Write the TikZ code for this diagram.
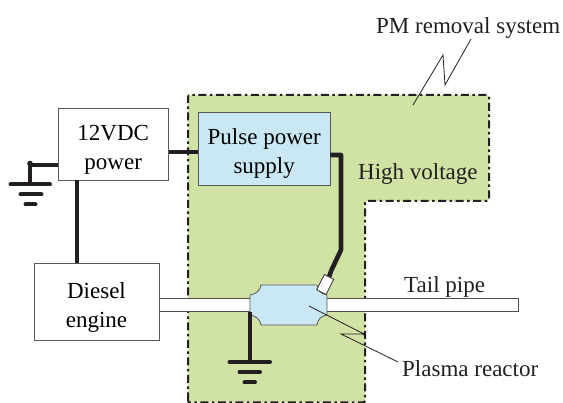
\documentclass[tikz,border=0pt]{standalone}
\usepackage{fontspec}
\setmainfont{Liberation Serif}
\definecolor{zone}{RGB}{208,226,164}
\definecolor{cyanbox}{RGB}{201,232,244}
\definecolor{ink}{RGB}{35,31,32}
\tikzset{
  wire/.style={draw=ink,line width=4.1pt},
  gbar/.style={draw=ink,line width=4pt,line cap=round},
  thin line/.style={draw=ink,line width=0.8pt},
  blockbox/.style={draw=ink!75,line width=0.8pt,fill=#1,minimum width=0pt,inner sep=0pt,align=center,font=\fontsize{23}{28.5}\selectfont},
  label/.style={text=ink,inner sep=0pt,font=\fontsize{23}{28}\selectfont}
}
\begin{document}
\begin{tikzpicture}[x=1pt,y=-1pt]
\useasboundingbox (0,0) rectangle (563,403);
% zone
\draw[draw=ink,fill=zone,line width=2pt,dash pattern=on 8pt off 3.5pt on 2.5pt off 3.5pt,rounded corners=2pt]
  (188,402.5) -- (188,95) -- (489,95) -- (489,201) -- (365,201) -- (365,402.5) -- cycle;
\coordinate (gl) at (30,165);
\coordinate (gl2) at (30,185);
\coordinate (gr) at (250,312);
\coordinate (gr2) at (250,362);
% pipe
\fill[white] (159,298) rectangle (250,311);
\draw[thin line,draw=ink!80] (159,298) -- (250,298) (159,311) -- (250,311);
\fill[white] (327,298) rectangle (518,311);
\draw[thin line,draw=ink!80] (327,298) -- (518,298) -- (518,311) -- (327,311);
% boxes
\node[blockbox=white,minimum width=110.5pt,minimum height=71.5pt] (power) at (113.2,144.2) {\rule{0pt}{27pt}12VDC\\power};
\node[blockbox=cyanbox,minimum width=131.5pt,minimum height=73pt] (pulse) at (264.2,148.5) {\rule{0pt}{26pt}Pulse power\\supply};
\node[blockbox=white,minimum width=125pt,minimum height=77pt] (diesel) at (96.5,301.5) {\rule{0pt}{28pt}Diesel\\engine};
% reactor
\draw[draw=ink!75,line width=0.8pt,fill=cyanbox] (261,285) -- (317,285)
  .. controls (318,291) and (321,294) .. (327,295) -- (327,315)
  .. controls (321,316) and (318,319) .. (317,325) -- (261,325)
  .. controls (260,319) and (256,316) .. (250,315) -- (250,295)
  .. controls (256,294) and (260,291) .. (261,285) -- cycle;
\coordinate (reactor) at (288.5,305);
% wires
\draw[wire] (power.east |- 0,152) -- (pulse.west |- 0,152);
\draw[wire] (power.south -| 77,0) -- (diesel.north -| 77,0);
\draw[wire] (power.west |- gl) -- (gl) -- (gl2);
\fill[ink] (gl) ++(0,-1.5) circle (2.8pt);
\draw[gbar] (10.5,184.5) -- (50,184.5);
\draw[gbar] (20.5,194.5) -- (41.5,194.5);
\draw[gbar] (25.5,204.5) -- (35.5,204.5);
\draw[wire] (gr) -- (gr2);
\draw[gbar] (229.5,362) -- (270,362);
\draw[gbar] (239.5,372) -- (260,372);
\draw[gbar] (244.5,382.5) -- (255,382.5);
% HV wire
\draw[wire,line width=4.6pt,line join=round] (pulse.east |- 0,155) -- (341,155) -- (341,250) -- (331,271);
\node[draw=ink!85,line width=0.9pt,fill=white,minimum width=10.5pt,minimum height=17pt,inner sep=0pt,rotate=-27] (tip) at (325.2,284.5) {};
\draw[wire,line width=4.6pt] (331,271) -- (tip.north);
% leaders
\draw[thin line] (413,105) -- (443,55) -- (445,85) -- (471,39);
\draw[thin line] (309,306) -- (364,334) -- (341,334) -- (398,362);
\fill[ink] (364,334) circle (1.6pt);
% labels
\node[label,anchor=base west] (pm) at (376,34) {PM removal system};
\node[label,anchor=base west] (hv) at (358,180) {High voltage};
\node[label,anchor=base west] (tail) at (404,293) {Tail pipe};
\node[label,anchor=base west] (plasma) at (402,377) {Plasma reactor};
\end{tikzpicture}
\end{document}
